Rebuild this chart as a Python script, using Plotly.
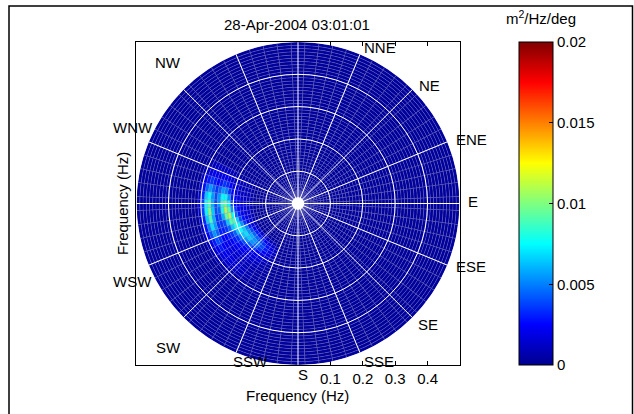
import numpy as np
import plotly.graph_objects as go

# ---------------- data ----------------
TITLE = "28-Apr-2004 03:01:01"
DIRECTIONS = [0, 5, 10, 15, 20, 25, 30, 35, 40, 45, 50, 55, 60, 65, 70, 75, 80, 85,
              90, 95, 100, 105, 110, 115, 120, 125, 130, 135, 140, 145, 150, 155, 160, 165,
              170, 175, 180, 185, 190, 195, 200, 205, 210, 215, 220, 225, 230, 235, 240, 245,
              250, 255, 260, 265, 270, 275, 280, 285, 290, 295, 300, 305, 310, 315, 320, 325,
              330, 335, 340, 345, 350, 355]          # compass degrees (bin centres)
DIR_WIDTH = 5
FREQ_EDGES = [0.02, 0.03, 0.04, 0.05, 0.06, 0.07, 0.08, 0.09, 0.10, 0.11, 0.12, 0.13,
              0.14, 0.15, 0.16, 0.17, 0.18, 0.19, 0.20, 0.21, 0.22, 0.23, 0.24, 0.25,
              0.26, 0.27, 0.28, 0.29, 0.30, 0.31, 0.32, 0.33, 0.34, 0.35, 0.36, 0.37,
              0.38, 0.39, 0.40, 0.41, 0.42, 0.43, 0.44, 0.45, 0.46, 0.47, 0.48, 0.49, 0.50]
BACKGROUND = 0.0003   # m^2/Hz/deg

# energy patch (values x 1e-3 m^2/Hz/deg), rows = directions, cols = frequency bins
PATCH_DIRS = [295, 290, 285, 280, 275, 270, 265, 260, 255, 250, 245, 240, 235, 230, 225, 220, 215, 210, 205]
PATCH_FREQS = [0.14, 0.15, 0.16, 0.17, 0.18, 0.19, 0.20, 0.21, 0.22, 0.23, 0.24, 0.25, 0.26, 0.27, 0.28, 0.29, 0.30]
PATCH_VALUES = [
    [0.5, 0.5, 0.5, 0.5, 0.5, 0.5, 0.8, 0.8, 1.0, 1.2, 1.2, 1.0, 1.2, 1.2, 1.0, 0.8, 0.5],
    [0.5, 0.8, 0.8, 1.0, 1.0, 1.0, 1.2, 1.5, 2.0, 2.2, 2.0, 1.8, 2.0, 2.2, 1.8, 1.2, 0.8],
    [0.5, 1.0, 1.0, 1.0, 1.2, 1.5, 1.8, 2.5, 3.2, 3.5, 3.0, 2.5, 3.0, 3.5, 3.0, 2.0, 1.0],
    [0.8, 1.0, 1.2, 1.2, 1.5, 1.8, 2.2, 3.5, 5.0, 5.5, 4.5, 3.5, 4.5, 5.5, 4.5, 2.8, 1.2],
    [0.8, 1.2, 1.2, 1.5, 1.8, 2.2, 3.0, 5.5, 7.5, 7.5, 5.5, 4.0, 5.5, 7.5, 6.5, 3.2, 1.5],
    [0.8, 1.2, 1.5, 1.8, 2.0, 2.5, 4.0, 7.5, 9.5, 8.5, 5.5, 4.0, 6.0, 9.0, 7.5, 3.8, 1.5],
    [0.8, 1.2, 1.8, 2.0, 2.5, 3.5, 5.5, 9.0, 11.0, 8.0, 4.5, 4.0, 6.5, 10.0, 7.5, 3.8, 1.5],
    [0.8, 1.5, 1.8, 2.2, 3.0, 4.5, 7.5, 11.0, 9.5, 6.0, 4.0, 3.5, 6.0, 9.0, 6.5, 3.2, 1.2],
    [1.0, 1.5, 2.0, 2.8, 4.0, 6.5, 9.0, 9.0, 6.5, 4.0, 3.5, 3.5, 5.5, 7.0, 5.0, 2.8, 1.2],
    [1.0, 1.5, 2.2, 3.5, 5.5, 7.5, 8.0, 6.5, 4.5, 3.5, 3.0, 3.0, 4.5, 5.5, 4.0, 2.2, 1.0],
    [1.0, 1.8, 3.0, 5.0, 6.5, 7.5, 6.5, 4.5, 3.5, 3.0, 2.5, 2.5, 3.5, 4.0, 3.0, 1.8, 1.0],
    [1.2, 2.2, 4.0, 5.5, 7.0, 6.5, 5.0, 3.5, 3.0, 2.5, 2.2, 2.2, 2.5, 3.0, 2.2, 1.5, 0.8],
    [1.5, 3.0, 4.5, 6.0, 6.5, 5.5, 4.0, 3.0, 2.5, 2.2, 1.8, 1.8, 2.0, 2.2, 1.8, 1.2, 0.8],
    [1.5, 3.0, 4.5, 5.5, 5.5, 4.5, 3.2, 2.5, 2.2, 1.8, 1.5, 1.5, 1.8, 1.8, 1.5, 1.0, 0.5],
    [1.5, 3.0, 4.0, 5.0, 4.5, 3.5, 2.5, 2.0, 1.8, 1.5, 1.2, 1.2, 1.5, 1.5, 1.2, 0.8, 0.5],
    [1.2, 2.5, 3.5, 4.0, 3.5, 2.5, 2.0, 1.8, 1.5, 1.2, 1.0, 1.0, 1.2, 1.2, 1.0, 0.5, 0.5],
    [1.0, 2.0, 2.8, 3.0, 2.5, 2.0, 1.8, 1.5, 1.2, 1.0, 0.8, 0.8, 0.8, 0.8, 0.5, 0.5, 0.5],
    [0.8, 1.5, 2.0, 2.0, 1.8, 1.5, 1.2, 1.0, 0.8, 0.8, 0.5, 0.5, 0.5, 0.5, 0.5, 0.5, 0.5],
    [0.5, 0.8, 1.2, 1.2, 1.0, 0.8, 0.8, 0.5, 0.5, 0.5, 0.5, 0.5, 0.5, 0.5, 0.5, 0.5, 0.5],
]
PATCH_SCALE = 1e-3

RING_FREQS = [0.1, 0.2, 0.3, 0.4]
XTICKS = [0.1, 0.2, 0.3, 0.4]
CBAR_TICKS = [0, 0.005, 0.01, 0.015, 0.02]
CBAR_TICKTEXT = ["0", "0.005", "0.01", "0.015", "0.02"]
DIR_LABELS = ["NNE", "NE", "ENE", "E", "ESE", "SE", "SSE", "S", "SSW", "SW", "WSW", "WNW", "NW"]

# ---------------- build spectrum ----------------
spec = {}
for d in DIRECTIONS:
    for f in FREQ_EDGES[:-1]:
        spec[(d, round(f, 3))] = BACKGROUND
for i, d in enumerate(PATCH_DIRS):
    for j, f in enumerate(PATCH_FREQS):
        spec[(d, round(f, 3))] = max(PATCH_VALUES[i][j] * PATCH_SCALE, BACKGROUND)

thetas, bases, lens, vals = [], [], [], []
for d in DIRECTIONS:
    for k in range(len(FREQ_EDGES) - 1):
        f0, f1 = FREQ_EDGES[k], FREQ_EDGES[k + 1]
        thetas.append(d)
        bases.append(f0)
        lens.append(f1 - f0)
        vals.append(spec[(d, round(f0, 3))])

JET = [[0, "rgb(0,0,143)"], [0.125, "rgb(0,0,255)"], [0.375, "rgb(0,255,255)"],
       [0.625, "rgb(255,255,0)"], [0.875, "rgb(255,0,0)"], [1, "rgb(128,0,0)"]]

W, H = 634, 414
FONT = "Arial, Liberation Sans, sans-serif"
FS = 15


def px(x, y):
    return x / W, 1 - y / H


ax_l, ax_r, ax_t, ax_b = 136, 460, 42, 365
xdom = [ax_l / W, ax_r / W]
ydom = [1 - ax_b / H, 1 - ax_t / H]

fig = go.Figure()
fig.add_trace(go.Barpolar(
    theta=thetas, r=lens, base=bases, width=[DIR_WIDTH] * len(thetas),
    marker=dict(
        color=vals, colorscale=JET, cmin=0, cmax=0.02,
        line=dict(color="rgba(130,130,190,0.45)", width=0.6),
        colorbar=dict(
            x=519 / W, xanchor="left", xpad=0, ypad=0,
            y=1 - (ax_t + ax_b) / 2 / H, yanchor="middle",
            len=(ax_b - ax_t) / H, lenmode="fraction",
            thickness=34, thicknessmode="pixels",
            outlinecolor="black", outlinewidth=1,
            ticks="inside", ticklen=4, tickcolor="black",
            tickvals=CBAR_TICKS, ticktext=CBAR_TICKTEXT,
            tickfont=dict(family=FONT, size=FS, color="black"),
        ),
    ),
    hoverinfo="skip", showlegend=False,
))
# anchor trace for the cartesian frame
fig.add_trace(go.Scatter(x=[0], y=[0], mode="markers", marker=dict(opacity=0),
                         hoverinfo="skip", showlegend=False))

shapes = []
for rf in RING_FREQS:
    shapes.append(dict(type="circle", xref="x", yref="y", x0=-rf, x1=rf, y0=-rf, y1=rf,
                       line=dict(color="white", width=1), layer="above"))
for a in np.arange(0, 180, 22.5):
    t = np.deg2rad(a)
    shapes.append(dict(type="line", xref="x", yref="y",
                       x0=-0.5 * np.sin(t), y0=-0.5 * np.cos(t),
                       x1=0.5 * np.sin(t), y1=0.5 * np.cos(t),
                       line=dict(color="white", width=1), layer="above"))
# outer figure frame
shapes.append(dict(type="rect", xref="paper", yref="paper",
                   x0=9 / W, x1=632.5 / W, y0=-0.01, y1=1 - 6 / H,
                   line=dict(color="black", width=1.5), layer="above"))

LABEL_POS = [(380, 48), (429, 85), (471, 140), (473, 202), (471, 266), (428, 324),
             (379, 361), (303, 374), (250, 361), (168, 347), (132, 281), (133, 127), (168, 62)]
ann = []
for lab, (lx, ly) in zip(DIR_LABELS, LABEL_POS):
    x, y = px(lx, ly)
    ann.append(dict(text=lab, x=x, y=y, xref="paper", yref="paper", showarrow=False,
                    xanchor="center", yanchor="middle",
                    font=dict(family=FONT, size=FS, color="black")))
for txt, (lx, ly), ang in [(TITLE, (297, 24), 0), ("Frequency (Hz)", (297, 395), 0),
                           ("Frequency (Hz)", (122, 204), -90),
                           ("m<sup>2</sup>/Hz/deg", (541, 18), 0)]:
    x, y = px(lx, ly)
    ann.append(dict(text=txt, x=x, y=y, xref="paper", yref="paper", showarrow=False,
                    xanchor="center", yanchor="middle", textangle=ang,
                    font=dict(family=FONT, size=FS, color="black")))

fig.update_layout(
    width=W, height=H, margin=dict(l=0, r=0, t=0, b=0),
    paper_bgcolor="white", plot_bgcolor="rgba(0,0,0,0)",
    polar=dict(
        domain=dict(x=xdom, y=ydom), bgcolor="rgba(0,0,0,0)", bargap=0,
        angularaxis=dict(rotation=90, direction="clockwise", showgrid=False,
                         showticklabels=False, showline=False, ticks=""),
        radialaxis=dict(range=[0, 0.5], visible=False, showgrid=False),
    ),
    xaxis=dict(domain=xdom, range=[-0.5, 0.5], showgrid=False, zeroline=False,
               showline=True, linecolor="black", linewidth=1, mirror="ticks",
               ticks="inside", ticklen=4, tickcolor="black",
               tickvals=XTICKS, ticktext=[str(v) for v in XTICKS],
               tickfont=dict(family=FONT, size=FS, color="black"), anchor="y"),
    yaxis=dict(domain=ydom, range=[-0.5, 0.5], showgrid=False, zeroline=False,
               showline=True, linecolor="black", linewidth=1, mirror=True,
               showticklabels=False, ticks="", anchor="x"),
    shapes=shapes, annotations=ann,
)
fig.write_html("out.html")
